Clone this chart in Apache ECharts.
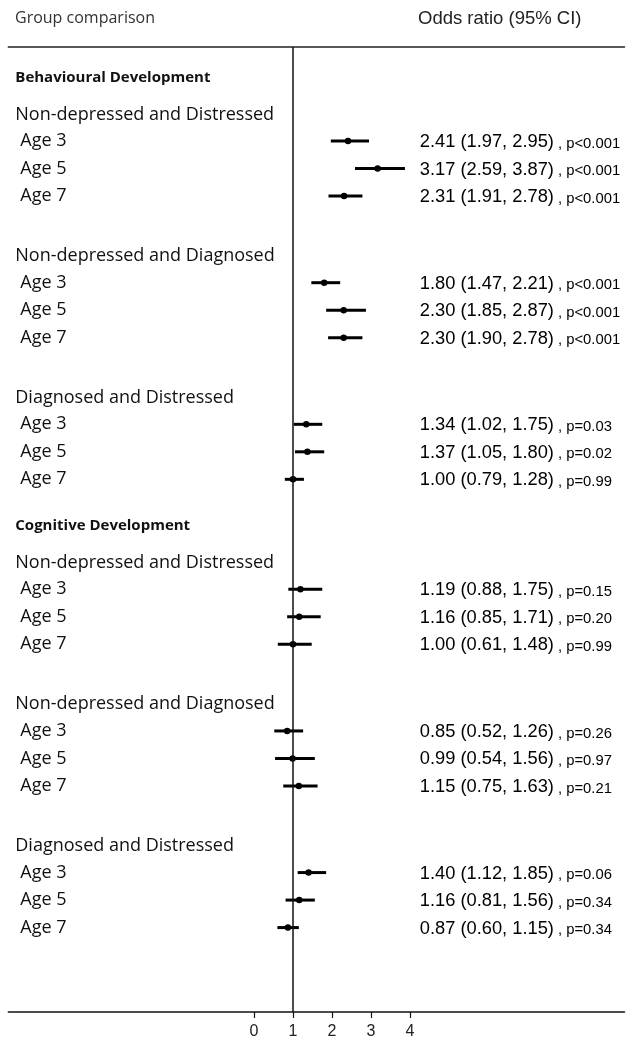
<!DOCTYPE html>
<html><head><meta charset="utf-8">
<script src="https://cdn.jsdelivr.net/npm/echarts@6/dist/echarts.min.js"></script>
<style>html,body{margin:0;padding:0;background:#fff}#c{width:630px;height:1042px}</style>
</head><body><div id="c"></div>
<script>
// ---- data ----
const sections = ['Behavioural Development', 'Cognitive Development'];
const groups = ['Non-depressed and Distressed', 'Non-depressed and Diagnosed', 'Diagnosed and Distressed'];
const ages = ['Age 3', 'Age 5', 'Age 7'];
const oddsRatio = [2.41, 3.17, 2.31, 1.80, 2.30, 2.30, 1.34, 1.37, 1.00,
                   1.19, 1.16, 1.00, 0.85, 0.99, 1.15, 1.40, 1.16, 0.87];
const ciLower   = [1.97, 2.59, 1.91, 1.47, 1.85, 1.90, 1.02, 1.05, 0.79,
                   0.88, 0.85, 0.61, 0.52, 0.54, 0.75, 1.12, 0.81, 0.60];
const ciUpper   = [2.95, 3.87, 2.78, 2.21, 2.87, 2.78, 1.75, 1.80, 1.28,
                   1.75, 1.71, 1.48, 1.26, 1.56, 1.63, 1.85, 1.56, 1.15];
const pValues   = ['p<0.001', 'p<0.001', 'p<0.001', 'p<0.001', 'p<0.001', 'p<0.001', 'p=0.03', 'p=0.02', 'p=0.99',
                   'p=0.15', 'p=0.20', 'p=0.99', 'p=0.26', 'p=0.97', 'p=0.21', 'p=0.06', 'p=0.34', 'p=0.34'];
const xTicks = [0, 1, 2, 3, 4];

// ---- layout (row units) ----
const BLOCK = 5.15, SECTION_EXTRA = 0.85, SECTION_HEAD = -2.3, GROUP_HEAD = -0.97;
const X_MIN = -6.3, X_MAX = 9.5;
const forestData = [];
const labelData = [];
let idx = 0;
sections.forEach((sec, s) => {
  groups.forEach((grp, g) => {
    const start = s * (3 * BLOCK + SECTION_EXTRA) + g * BLOCK;
    if (g === 0) labelData.push([start + SECTION_HEAD, sec, 'section']);
    labelData.push([start + GROUP_HEAD, grp, 'group']);
    ages.forEach((age, a) => {
      const y = start + a;
      labelData.push([y, age, 'age']);
      forestData.push([oddsRatio[idx], ciLower[idx], ciUpper[idx], y,
        oddsRatio[idx].toFixed(2) + ' (' + ciLower[idx].toFixed(2) + ', ' + ciUpper[idx].toFixed(2) + ')',
        pValues[idx]]);
      idx++;
    });
  });
});

const chart = echarts.init(document.getElementById('c'), null, {renderer: 'canvas'});
const leftFont = '"Open Sans", "DejaVu Sans", sans-serif';
const numFont = '"Liberation Sans", Arial, sans-serif';

chart.setOption({
  animation: false,
  backgroundColor: '#fff',
  title: [
    {text: 'Group comparison', left: 15, top: 10, padding: 0,
     textStyle: {fontSize: 16, fontWeight: 'normal', color: '#333', fontFamily: leftFont}},
    {text: 'Odds ratio (95% CI)', left: 418, top: 9, padding: 0,
     textStyle: {fontSize: 18.5, fontWeight: 'normal', color: '#222', fontFamily: numFont}}
  ],
  grid: {left: 8.3, right: 5.5, top: 47, bottom: 30, containLabel: false, outerBoundsMode: 'none'},
  xAxis: [
    {type: 'value', position: 'bottom', min: X_MIN, max: X_MAX,
     axisLine: {show: true, onZero: false, lineStyle: {color: '#111', width: 1.5}},
     axisTick: {show: true, customValues: xTicks, length: 6, inside: false, lineStyle: {color: '#111', width: 1.2}},
     axisLabel: {show: true, customValues: xTicks, fontSize: 16, color: '#222', fontFamily: numFont, margin: 12},
     splitLine: {show: false}},
    {type: 'value', position: 'top', min: X_MIN, max: X_MAX,
     axisLine: {show: true, onZero: false, lineStyle: {color: '#222', width: 1.5}},
     axisTick: {show: false}, axisLabel: {show: false}, splitLine: {show: false}}
  ],
  yAxis: {type: 'value', inverse: true, min: -3.42, max: 31.67, show: false},
  series: [
    {
      type: 'custom', name: 'forest', xAxisIndex: 0, yAxisIndex: 0,
      data: forestData,
      encode: {x: [0, 1, 2], y: 3},
      renderItem: function (params, api) {
        const y = api.value(3);
        const pm = api.coord([api.value(0), y]);
        const pl = api.coord([api.value(1), y]);
        const ph = api.coord([api.value(2), y]);
        const pt = api.coord([4.25, y]);
        return {
          type: 'group',
          children: [
            {type: 'line', shape: {x1: pl[0], y1: pl[1], x2: ph[0], y2: ph[1]},
             style: {stroke: '#000', lineWidth: 3}},
            {type: 'circle', shape: {cx: pm[0], cy: pm[1], r: 3.2}, style: {fill: '#000'}},
            {type: 'text', x: pt[0], y: pt[1],
             style: {
               text: '{v|' + api.value(4) + '}{p| , ' + api.value(5) + '}',
               verticalAlign: 'middle', align: 'left',
               rich: {
                 v: {fontSize: 18.3, color: '#111', fontFamily: numFont, lineHeight: 20, verticalAlign: 'bottom'},
                 p: {fontSize: 14.8, color: '#444', fontFamily: numFont, lineHeight: 19, verticalAlign: 'bottom'}
               }
             }}
          ]
        };
      },
      markLine: {
        silent: true, symbol: 'none', animation: false,
        label: {show: false},
        lineStyle: {color: '#111', width: 1.5, type: 'solid'},
        data: [{xAxis: 1}]
      }
    },
    {
      type: 'custom', name: 'labels', xAxisIndex: 0, yAxisIndex: 0,
      data: labelData,
      encode: {y: 0},
      renderItem: function (params, api) {
        const y = api.value(0);
        const kind = labelData[params.dataIndex][2];
        const base = api.coord([X_MIN, y]);
        let x = base[0] + 7, size = 18, weight = 'normal';
        if (kind === 'section') { size = 15; weight = 'bold'; }
        if (kind === 'age') { x = base[0] + 12; }
        return {
          type: 'text', x: x, y: base[1],
          style: {text: labelData[params.dataIndex][1], fontSize: size, fontWeight: weight,
                  fontFamily: leftFont, fill: '#111', verticalAlign: 'middle', align: 'left'}
        };
      }
    }
  ]
});
</script>
</body></html>
